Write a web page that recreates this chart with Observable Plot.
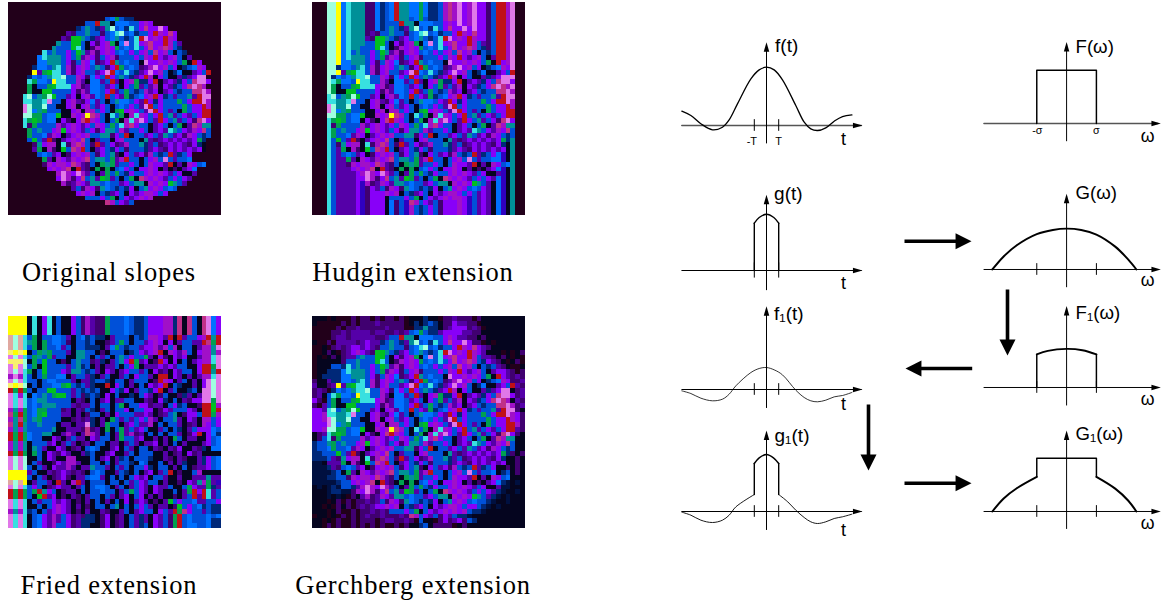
<!DOCTYPE html>
<html><head><meta charset="utf-8">
<script src="https://cdn.jsdelivr.net/npm/d3@7"></script>
<script src="https://cdn.jsdelivr.net/npm/@observablehq/plot@0.6"></script>
<style>
html,body{margin:0;padding:0;background:#fff;overflow:hidden;width:1164px;height:604px}
.p{position:absolute}
.p svg{overflow:visible;display:block}
.cap{position:absolute;font-family:"Liberation Serif",serif;font-size:26.5px;letter-spacing:.85px;white-space:nowrap;transform:translateX(-50%);color:#000}
</style></head><body>
<script>
// colour legend of the slope maps
const palette = {".":"#22001a",k:"#05051f",x:"#001040",n:"#002878",b:"#0050d8",B:"#0070ff",c:"#38e0e0",t:"#009098",g:"#00a050",G:"#00c020",
 p:"#8800f8",v:"#5500a8",d:"#400070",i:"#3000c0",m:"#a010c8",r:"#c01018",R:"#c03088",l:"#e078e8",y:"#ffff00",w:"#a0ffe0",o:"#e0a8a0",z:"#f8f070"};
const N = 44;
// Original slopes: [blank cells before the disc, cells of the disc] for rows 0..43
const originalRows = [[44,""],[44,""],[44,""],
[20,"bBgbnn"],[16,"bbrttkBBBbbpmp"],[14,"nbtbnvtwbBncbpRpplp"],[12,"vdbbtbbdbBcwbBnbbprmpRp"],
[11,"vdGGtbnvpbBtbnbcrlpmprmp"],[10,"tbbGGbkpdpmgkBlbcpmRpprmbv"],[9,"tbbbGcbkdmpmpgbBbcbpRpmRmbn"],
[7,"cbtbbpbGtvmdpmpbBbpbpmbRpmbkbn"],[6,"Bctttbpbgvmpdbpmdbbbpbmprpvpmbkv"],[6,"BBtttbpdbmpBdvprtbBbbklppmpmpbgkrp"],
[5,"nBBbtcbmdpmpbtbdprgbBbdvmlpmbpknbBmp"],[5,"yvgGccbmdpmbbvplrBbcbnvplpmbknBkkvpbr"],[4,"nBbBtccwbbmpdBpbrpbtbnvprmkpbkkvnvpll"],
[4,"cgBBbyccbbmvkBBvbrvkpmgnnprkvpvnpbRllp"],[4,"gkbbgGcccpmdvBBbvpbkpbgvbvmkpvnbpRlRm"],[4,"gkkGGbbbbpdmvBBbprvbgbnbmvpkvpbnbbRRlm"],
[3,"cwbtgwGbbvpkpmvBbrbpvgnbBpmrpnbvbbtvrll"],[3,"ccttclbbkpmvdpBvbkbtBBbpvrpnpbbbgbprrlm"],[3,"lwttwbbkkpmkpmbvpbkbBbpbvlrbpbbbbgbpprm"],
[3,"lwBtgbbbkkpmkmmbpbkgGpmpbvlrpbvbkgbpprr"],[3,"wwggbBBGkkmpmyRmbkcbgkmcmpbprbtvbpvbprr"],[3,"cgGgbBBkpdkpRrmpbkbgkmcmlpbvrpbtvbpdRlp"],
[3,"cdgbbbbmvpmpvpbmpbgbcmRpbbkvpbkbgkvRmtt"],[4,"gbtbbpmGpmpvbpdpttbmvbbpbkvpvctbpvmpRb"],[4,"gbbBvmpkvpmpmbbttdpbrkbbvpbvtbvpdmpbnb"],
[4,"bGbvrdkvpmpRbkvbbkpmbbbktvdvpvpvpvpgn"],[5,"dtpmmkcdmRmbdrvbpdvmbbtnvbdvpvpvdpnk"],[5,"vgkmdkGbRmrbkvpbnpbdbbbnvpvdpvpvpvpk"],
[6,"bBbvpkdpmpmbdpbtdkpbvpdmbnbrvnbp"],[7,"gvkmpvmpmRbttbgvmrbbkbpmblbvbbB"],[7,"dmpmmpRmvdbkgtgvbbpbkbmppvrkvkmpbB"],
[8,"pmpmRkrvdkgkgkbBpbkppmpkvkdkvpB"],[10,"mlmplmvbkvgbgbnpbbpmpmpvbpkkv"],[10,"plmdpRbtvGgvbkbgkRmpmpvbpbpv"],
[11,"mdvmpvttbBbbvpbttkmpmpGtbv"],[13,"vbdmpdtBbnbnpkbtpmpbBb"],[14,"pmpmkbnvpbkpvpmmpbp"],[16,"bbbpbgkbpvpmpm"],[20,"Rmbpvb"],[44,""],[44,""]];
// Hudgin extension: colour carried up and down each column
const hudginTop    = "...wwyBctttddBnbBrttBBgBnnbmRmlpmlppdbrrml..";
const hudginBottom = "...cbvvvvpidpppkBdbimbnbpbdpppmpibvpvkBikt..";
// Gerchberg extension: cells left and right of the disc, rows 0..43
const gerchLeft = ["kkk.k...d.dd.d.dd.d.kk","k.....d.d.dddvddddd.kn",".....d.ddvdddddvddd..n","....ddvdvvvvdvvddvdv","....dvvdvvvvvddvd","k..d.vvvvdvpvvvv","..k.dvdvppvp","..kdk.dvpmp",".k.kdkdvvb",".kkkkkdbb",".kkkbbn",".kknnn",".knnnn","dkkvn","vkkdv","dvd.","dvkb","pd.b","d.vb","ppv","ppm","ppm","ppp","ppm","kdv","kdb","nbbt","nbbB","nnbb","nnnbv","xxkvv","xxxnvd","xxxxnbk","xxxnnbb","xxxxxnbb","kxkxnxbbnv","kkkxnnxxdm","kkkxkxk.dkv","kkk.kd.d.ddvd","kk.k.dkd.dvdvp","kkk.kd..d.ddvdvd",".kk.k.d.d.dvddvdddvd","kk.k.d..d.ddd.dvvddvd.","kk.d.d..d.d.d.d..d.dkk"];
const gerchRight = ["knkk.ddvddd.dkkkkkkkkk","knbnkddpvvdd.kkkkkkkkk","ntnnkdvpppdvd.kkkkkkkk","vppppvvddkkkkkkkkk","vvddkdkkkkkkkk","dd.k.kkkkkk","dvdkkkkkkk","vkkk.k.kd","vdkdk.k.","pvdk.kd.","bvdk..k","ppvd.d","vdvd","ddv","vd","dv","dv","vd","dv","dk","pd","pd","md","vd","dk","kk","kk","kk","dkd","kdk","kdk","dkdk","nbkdk","nxkkk","nxkxk","xxkkk","nxkkxk","nxkxkkk","bnxkkxkkk","pbnxkxkkkkk","pmbnnxkkkkkkkk","dpvbnnxkkkkkkkkkkk","bkk.dpdvpdbnkkkkkkkkkk","nbkdddd.kdkkkkkkkkkkkk"];
// Fried extension
const friedTop = "yyyykckpckbkkpbdmvddgbbbBbnnbpppmmnRkRbkRlBp";
const friedLeft = ["owoc","owoc","owoc","zyzy","lwlc","zzzw","lzlw","lwlc","mlmc","lwlc","zyzw","rgrg","lcmc","lclc","lclc","mtmg","Rgrg","mtRg","Rtrt","mtmt","rgrg","rgrg","mtmt","mtmt","rgrg","lwlw","lwlw","lwlw","yyyy","yyyy","owoy","lwlc","rgrg","rgrg","lclc","lclc","mtmc","lclc","lclc","lclc"];
const friedRight = ["mrtr","rRgr","mmtl","mmtm","mmcl","mmcl","rrgl","rrtr","mmcl","plwl","plwl","llwl","llwl","llgl","rrGm","rrGr","rrgm","mmbp","mpbp","ppBb","kpBn","kpbB","vpbB","nkBB","kkkk","npbB","npbB","vpbB","kkkk","vtvv","mgvi","vgnv","rcvb","rcvb","vbbp","nbnn","vbnn","bBbB","bBnn","bBnn"];
const friedMid = ["bgkbbBBbvkbBnbnnkvbbbkbnbmmpvrkrvbbpp","tgkgbBBbdkbbnbkkdvbgbkbbvpmpkpkvbbvv","bgkgbbBvbkbbnnnkvBgbnbbvppmvmbmkbbkv","kbgtgbbbvkttbbkdkbbbknbpvpmrkmpvmbkp","bgtbgvbbkkttbkbvbkbtbpbbgvkpdkpvpkkv","kgbGbbkdkbtbbdvnkvbtprgvpkdrpkpkbkvp","bgkGbbbbvbtnbkvkvvbkbpgkvvvpvpvbbkkp","gkbGbbbpvttbnbvkpvkvpbbvbkpdvkpvbbkp","bkbgbbBBkvbbvnkvbkkvbkpbbvkrrkpvkvkv","bbkbBBbbbvkvvnbbnkbbkvbbbkdrmpkvbkvk","kbkbbBBgGbnbvnkkrkpbkvkbkpvprkbnkkvk","bkbbGGbbbvbnbnbkkpbnpkvbbnprkvbkknbk","kBbtbgGGbvbdnbnkpkbkknkbpvkdbkkdnvkv","bBttbbbbbkvdkbkvpkvvbbkkvdkpnkbkvdpp","bBbtttbbbvdvvbkbbkbgkbbppdvvkbpnbkkd","bBggbbbdvkvdbnkvbkbbpkbbppkdpvbbbpvk","bBgGbbbvvkvkdbbkvkpbbbvvpvkdvbtkdppb","btgbbbbkkdvdvnkvkgbvbvbpbmvkbbtvkpvk","bbtbbbkvvkvvlnkvgbbkvpbvvmkbkbbvkdvk","bbbbbtkkvvvdRdvkgkbgvbvpbkkvbkbnkvbp","BbbttkkvmvkvRmvkbkvgvmdvkbkbkbbvkdpr","Bbbkkpvkvbvvkpvbbkvgbbvpkkvkvkgbkvvk","kbbbvpkvbvkdvkbbkvvkvbvkvvpkvkbkvkkk","ktbvkkpvkdvkbBbkkvpkbvkbbkvdkvdpkkvd","kgbkpvdpvkkvnbkkvpkkvbkbbbkkvkdvkpdv","kkbkpvkkmmkkkbkvpkvnbkbbbnkkvdkvdkkv","kbvkkdpvmmvkkbbkbkvbbnkBbkkbkvkvnkkv","bkbvkpvvmvkvvtbbvkbvbkbbpnkbbkvkbkdv","vbkkvdvpvdvdkbBbkkvbnkbkvpkvbrkdkkbm","bkbvkdvpdkvvbBBvkbkbkbpvpkbbvkkvkkvv","kvbbvkrvkmrvkbbbkbbkbvbpvbbkvkkdkpvt","bpbkdvpvvkvbkbBBbkvbkvbpvkpvvbkkbgpv","bgrtpbkdvvkbkbbBbbkvbgbpvkpvkkbkvgrp","bkGrvpkdkvdkvbbkbvkvpkbpkvkvkkdkvbrv","kbvbbpvpvkdkvkbkvkbkpkvpvkdkvGbpbbBv","kkbkbpmpvkvkdkbbkbtkbkbpbvkvvkdGbpbB","nbkbvpmpvkdkvkkvdkkvbkvpbbkpbvrgRpbb","kbBpvmvbpdvdnnkdpkdvkbvnvkpvbdgrbBbb","kbBpvmvbpdvnnnkdpkdvkbvnvkpvbdgrbBbb","kbBpvmbbpdvnnkkdpkdvkbvnbkpvbdgrbBBb"];

// grids assembled from the arrays above
const originalGrid = originalRows.map(([lead, s]) => (".".repeat(lead) + s).padEnd(N, ".").slice(0, N));
const hudginGrid = originalGrid.map((row, r) => [...row].map((ch, c) => ch !== "." ? ch : (r < N / 2 ? hudginTop[c] : hudginBottom[c]) || ".").join(""));
const gerchGrid = originalGrid.map((row, r) => [...row].map((ch, c) => {
  if (ch !== ".") return ch;
  if (c < N / 2) return gerchLeft[r][c] || "k";
  const s = gerchRight[r]; return s[c - (N - s.length)] || "k";
}).join(""));
const friedGrid = [0,1,2,3].map(() => friedTop).concat(friedMid.map((m, i) => friedLeft[i] + m.padEnd(36, "k").slice(0, 36) + friedRight[i]));

function add(svg, left, top) {
  const d = document.createElement("div"); d.className = "p";
  d.style.left = left + "px"; d.style.top = top + "px";
  d.appendChild(svg); document.body.appendChild(d);
}
function slopeMap(grid, left, top, size) {
  const cells = grid.flatMap((row, r) => [...row].map((ch, c) => ({c, r, ch})));
  add(Plot.plot({width: 213, height: size, margin: 0, style: {background: "none"},
    x: {domain: [0, N], axis: null}, y: {domain: [N, 0], axis: null}, color: {type: "identity"},
    marks: [Plot.rect(cells, {x1: "c", x2: d => d.c + 1, y1: "r", y2: d => d.r + 1, fill: d => palette[d.ch] || palette.k, shapeRendering: "crispEdges"})]
  }), left, top);
}
slopeMap(originalGrid, 8, 2, 213);
slopeMap(hudginGrid, 312, 2, 213);
slopeMap(friedGrid, 8, 316, 212);
slopeMap(gerchGrid, 312, 316, 212);

const captions = [["Original slopes",109,257],["Hudgin extension",413,257],["Fried extension",109,570],["Gerchberg extension",413,570]];
for (const [txt, x, y] of captions) {
  const d = document.createElement("div"); d.className = "cap"; d.textContent = txt;
  d.style.left = x + "px"; d.style.top = y + "px"; document.body.appendChild(d);
}

// axis-head symbols: tip at the mark's anchor, pointing up
const slimHead = {draw(ctx, size) { const L = Math.sqrt(size); ctx.moveTo(0, 0); ctx.lineTo(.29 * L, L); ctx.lineTo(-.29 * L, L); ctx.closePath(); }};
const bigHead  = {draw(ctx, size) { const L = Math.sqrt(size); ctx.moveTo(0, 0); ctx.lineTo(.5 * L, L); ctx.lineTo(-.5 * L, L); ctx.closePath(); }};

const SANS = "Liberation Sans";
const spanT = [-6.94, 7.87], spanW = [-2.77, 3.16];
const tailFT = [-6.94,-6.2,-5.38,-4.43,-3.61,-3.06,-2.38,-1.28,-.6,0,.63,1.31,2.4,3.09,3.63,4.18,4.86,5.55,6.23,7];
const fV  = [.246,.171,.03,-.074,-.029,.097,.371,.8,.954,1,.954,.783,.343,.057,-.057,-.086,-.04,.074,.154,.183];
const f1T = [-6.94,-6.2,-5.38,-4.43,-3.61,-3.06,-2.51,-1.28,-.6,0,.63,1.31,2.4,3.09,3.63,4.18,4.86,5.55,6.23,7];
const f1V = [-.023,-.069,-.149,-.194,-.166,-.08,.063,.291,.36,.377,.337,.251,-.011,-.137,-.194,-.211,-.183,-.126,-.103,-.051];
const gCapT = [-1,-.6,0,.6,1], gCapV = [.811,.909,.966,.909,.811];
const g1LeftT = [-6.94,-6.2,-5.38,-4.43,-3.61,-3.06,-2.51,-1], g1LeftV = [-.011,-.063,-.149,-.189,-.149,-.063,.08,.291];
const g1CapT = [-1,-.6,0,.57,1], g1CapV = [.823,.92,.977,.92,.823];
const g1RightT = [1,1.74,2.4,3.09,3.63,4.18,4.86,5.55,6.23,7], g1RightV = [.291,.166,.023,-.103,-.177,-.206,-.177,-.12,-.091,-.046];
const GT = [-2.49,-2.11,-1.67,-1,-.46,0,.49,1,1.63,2.07,2.34], GV = [0,.245,.454,.663,.742,.767,.742,.656,.429,.184,0];
const F1T = [-1,-.63,0,.53,1], F1V = [.62,.687,.724,.699,.62];
const G1LT = [-2.49,-2.11,-1.67,-1], G1LV = [0,.245,.436,.65];
const G1RT = [1,1.63,2.07,2.34], G1RV = [.65,.429,.202,0];

const panels = [
 {ox:766,oy:125,ux:12.2,uy:58.3,span:spanT,top:1.43,bot:-.30,axisC:"#555",axisW:1.6,name:"f(t)",nx:.7,ny:1.36,lab:"t",lx:6.31,ly:-.23,ticks:[-1,1],tickH:.1,
  small:[["-T",-1.2,-.27],["T",1,-.27]],
  segs:[{t:tailFT,v:fV,w:1.3,smooth:1}]},
 {ox:766,oy:270,ux:12.2,uy:58.3,span:spanT,top:1.3,bot:-.33,name:"g(t)",nx:.62,ny:1.32,lab:"t",lx:6.31,ly:-.22,ticks:[-1,1],tickH:.13,
  segs:[{t:[-1,-1],v:[0,.811],w:1.4},{t:gCapT,v:gCapV,w:1.4,smooth:1},{t:[1,1],v:[.811,0],w:1.4}]},
 {ox:766,oy:388.7,ux:12.2,uy:58.3,span:spanT,top:1.43,bot:-.31,name:"f₁(t)",nx:.62,ny:1.29,lab:"t",lx:6.31,ly:-.25,ticks:[-1,1],tickH:.1,
  segs:[{t:f1T,v:f1V,w:.8,smooth:1}]},
 {ox:766,oy:511.3,ux:12.2,uy:58.3,span:spanT,top:1.39,bot:-.31,name:"g₁(t)",nx:.66,ny:1.3,lab:"t",lx:6.31,ly:-.32,ticks:[-1,1],tickH:.1,
  segs:[{t:g1LeftT,v:g1LeftV,w:.9,smooth:1},{t:[-1,-1],v:[.291,.823],w:1.4},{t:g1CapT,v:g1CapV,w:1.5,smooth:1},{t:[1,1],v:[.823,.291],w:1.4},{t:g1RightT,v:g1RightV,w:.9,smooth:1}]},
 {ox:1067.8,oy:125,ux:30.4,uy:54.3,span:spanW,top:1.53,bot:-.325,axisC:"#555",axisW:1.6,name:"F(ω)",nx:.3,ny:1.44,lab:"ω",lx:2.72,ly:-.245,ticks:[],tickH:0,
  small:[["-σ",-.98,-.14],["σ",1,-.14]],
  segs:[{t:[-1,-1,1,1],v:[0,1,1,0],w:1.5}]},
 {ox:1067.8,oy:270.7,ux:30.4,uy:54.3,span:spanW,top:1.42,bot:-.325,name:"G(ω)",nx:.3,ny:1.43,lab:"ω",lx:2.72,ly:-.2,ticks:[-1,1],tickH:.11,
  segs:[{t:GT,v:GV,w:2,smooth:1}]},
 {ox:1067.8,oy:389.3,ux:30.4,uy:54.3,span:spanW,top:1.53,bot:-.33,name:"F₁(ω)",nx:.3,ny:1.4,lab:"ω",lx:2.72,ly:-.227,ticks:[-1,1],tickH:.11,
  segs:[{t:[-1,-1],v:[0,.62],w:1.5},{t:F1T,v:F1V,w:1.9,smooth:1},{t:[1,1],v:[.62,0],w:1.5}]},
 {ox:1067.8,oy:512.7,ux:30.4,uy:54.3,span:spanW,top:1.52,bot:-.32,name:"G₁(ω)",nx:.3,ny:1.45,lab:"ω",lx:2.72,ly:-.215,ticks:[-1,1],tickH:.11,
  segs:[{t:G1LT,v:G1LV,w:2,smooth:1},{t:[-1,-1,1,1],v:[.65,1,1,.65],w:1.5},{t:G1RT,v:G1RV,w:2,smooth:1}]},
];

for (const P of panels) {
  const W = 200, H = 150, L = 100, T = 105;
  const segMarks = P.segs.map(s => Plot.line(s.t.map((t, i) => ({t, v: s.v[i]})), {x: "t", y: "v", stroke: "#000", strokeWidth: s.w, curve: s.smooth ? "catmull-rom" : "linear", strokeLinejoin: "round"}));
  add(Plot.plot({width: W, height: H, margin: 0, style: {background: "none", overflow: "visible"},
    x: {domain: [-L / P.ux, (W - L) / P.ux], axis: null},
    y: {domain: [(T - H) / P.uy, T / P.uy], axis: null},
    marks: [
      Plot.line([{t: P.span[0], v: 0}, {t: P.span[1] - .1, v: 0}], {x: "t", y: "v", stroke: P.axisC || "#000", strokeWidth: P.axisW || 1}),
      Plot.line([{t: 0, v: P.bot}, {t: 0, v: P.top - .05}], {x: "t", y: "v", stroke: "#000", strokeWidth: 1}),
      Plot.dot([{t: P.span[1], v: 0}], {x: "t", y: "v", symbol: slimHead, r: 5.4, rotate: 90, fill: "#000", stroke: null}),
      Plot.dot([{t: 0, v: P.top}], {x: "t", y: "v", symbol: slimHead, r: 5.4, rotate: 0, fill: "#000", stroke: null}),
      Plot.ruleX(P.ticks, {x: d => d, y1: -P.tickH, y2: P.tickH, stroke: "#000", strokeWidth: 1}),
      ...segMarks,
      Plot.text([{t: P.nx, v: P.ny, s: P.name}], {x: "t", y: "v", text: "s", textAnchor: "start", fontSize: 19, fontFamily: SANS, fill: "#000"}),
      Plot.text([{t: P.lx, v: P.ly, s: P.lab}], {x: "t", y: "v", text: "s", fontSize: 18, fontFamily: SANS, fill: "#000"}),
      Plot.text((P.small || []).map(([s, t, v]) => ({s, t, v})), {x: "t", y: "v", text: "s", fontSize: 11, fontFamily: SANS, fill: "#000"})
    ]}), P.ox - L, P.oy - T);
}

// flow arrows between the panels
const flowFrom = [[904,240.7],[904,482.7],[971.7,368],[1007,289],[868,404]];
const flowTo   = [[971,240.7],[971,482.7],[905,368],[1007,355],[868,470]];
const flows = flowFrom.map(([x1, y1], i) => {
  const [x2, y2] = flowTo[i], len = Math.hypot(x2 - x1, y2 - y1), ux = (x2 - x1) / len, uy = (y2 - y1) / len;
  return {x1, y1, x2, y2, xb: x2 - 14 * ux, yb: y2 - 14 * uy, rot: Math.atan2(ux, -uy) * 180 / Math.PI};
});
add(Plot.plot({width: 1164, height: 604, margin: 0, style: {background: "none", pointerEvents: "none"},
  x: {domain: [0, 1164], axis: null}, y: {domain: [604, 0], axis: null},
  marks: [
    Plot.link(flows, {x1: "x1", y1: "y1", x2: "xb", y2: "yb", stroke: "#000", strokeWidth: 3.6}),
    Plot.dot(flows, {x: "x2", y: "y2", symbol: bigHead, r: 9, rotate: "rot", fill: "#000", stroke: null})
  ]}), 0, 0);
</script>
</body></html>
